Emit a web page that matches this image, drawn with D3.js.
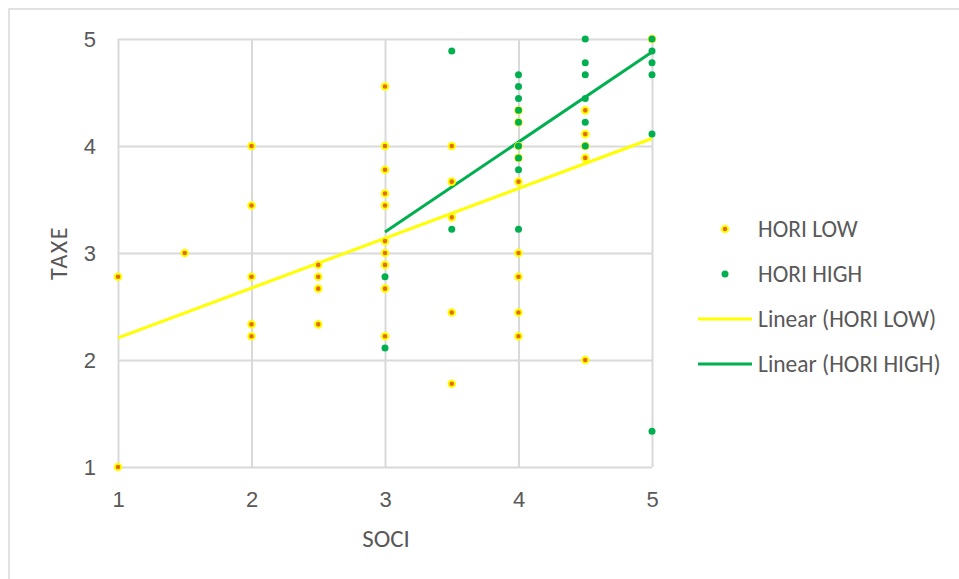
<!DOCTYPE html>
<html>
<head>
<meta charset="utf-8">
<script src="https://cdn.jsdelivr.net/npm/d3@7"></script>
<style>
  html, body { margin: 0; padding: 0; background: #fff; }
  svg { display: block; font-family: Carlito, "Open Sans", "Noto Sans", sans-serif; }
</style>
</head>
<body>
<svg id="chart" width="959" height="579"></svg>
<script>
// ---- data ----
const lowX  = [1, 1, 1.5, 2, 2, 2, 2, 2, 2.5, 2.5, 2.5, 2.5,
               3, 3, 3, 3, 3, 3, 3, 3, 3, 3,
               3.5, 3.5, 3.5, 3.5, 3.5,
               4, 4, 4, 4, 4, 4, 4, 4, 4,
               4.5, 4.5, 4.5, 4.5, 4.5, 5];
const lowY  = [2.778, 1, 3, 4, 3.444, 2.778, 2.333, 2.222, 2.889, 2.778, 2.667, 2.333,
               4.556, 4, 3.778, 3.556, 3.444, 3.111, 3, 2.889, 2.667, 2.222,
               4, 3.667, 3.333, 2.444, 1.778,
               4.333, 4.222, 4, 3.889, 3.667, 3, 2.778, 2.444, 2.222,
               4.333, 4.111, 4, 3.889, 2, 5];
const highX = [3, 3, 3.5, 3.5,
               4, 4, 4, 4, 4, 4, 4, 4, 4,
               4.5, 4.5, 4.5, 4.5, 4.5, 4.5,
               5, 5, 5, 5, 5, 5];
const highY = [2.778, 2.111, 4.889, 3.222,
               4.667, 4.556, 4.444, 4.333, 4.222, 4, 3.889, 3.778, 3.222,
               5, 4.778, 4.667, 4.444, 4.222, 4,
               5, 4.889, 4.778, 4.667, 4.111, 1.333];
// trendline end points
const trendLowX  = [1, 5];
const trendLowY  = [2.206, 4.07];
const trendHighX = [3, 5];
const trendHighY = [3.196, 4.879];
const xTicks = [1, 2, 3, 4, 5];
const yTicks = [1, 2, 3, 4, 5];
const legendLabels = ["HORI LOW", "HORI HIGH", "Linear (HORI LOW)", "Linear (HORI HIGH)"];

// ---- drawing ----
const svg = d3.select("#chart");
const C = { grid: "#d9d9d9", text: "#595959", lowFill: "#e46c0a", lowStroke: "#ffff00", high: "#00b050", lowLine: "#ffff00" };

// chart area border
svg.append("rect").attr("x", 9).attr("y", 9).attr("width", 1000).attr("height", 1000)
  .attr("fill", "#fff").attr("stroke", C.grid).attr("stroke-width", 1.5);

const x = d3.scaleLinear().domain([1, 5]).range([118, 652]);
const y = d3.scaleLinear().domain([1, 5]).range([467, 39]);

// gridlines + tick labels
const gx = svg.append("g").attr("transform", `translate(0,${y(1)})`)
  .call(d3.axisBottom(x).tickValues(xTicks).tickSize(-(y(1) - y(5))).tickFormat(d3.format("d")));
const gy = svg.append("g").attr("transform", `translate(${x(1)},0)`)
  .call(d3.axisLeft(y).tickValues(yTicks).tickSize(-(x(5) - x(1))).tickFormat(d3.format("d")).tickPadding(22));
[gx, gy].forEach(g => {
  g.select(".domain").remove();
  g.selectAll(".tick line").attr("stroke", C.grid).attr("stroke-width", 2);
  g.selectAll(".tick text").attr("fill", C.text).style("font-size", "22px");
});
gx.selectAll(".tick text").attr("y", 40).attr("dy", 0);
gy.selectAll(".tick text").attr("dy", "0.32em");

// trendlines
const line = d3.line().x(d => x(d[0])).y(d => y(d[1]));
svg.append("path").datum(d3.zip(trendLowX, trendLowY)).attr("d", line)
  .attr("fill", "none").attr("stroke", C.lowLine).attr("stroke-width", 3);
svg.append("path").datum(d3.zip(trendHighX, trendHighY)).attr("d", line)
  .attr("fill", "none").attr("stroke", C.high).attr("stroke-width", 3);

// points
svg.append("g").selectAll("circle").data(d3.zip(lowX, lowY)).join("circle")
  .attr("cx", d => x(d[0])).attr("cy", d => y(d[1])).attr("r", 3.3)
  .attr("fill", C.lowFill).attr("stroke", C.lowStroke).attr("stroke-width", 2);
svg.append("g").selectAll("circle").data(d3.zip(highX, highY)).join("circle")
  .attr("cx", d => x(d[0])).attr("cy", d => y(d[1])).attr("r", 3.5)
  .attr("fill", C.high);

// axis titles
svg.append("text").attr("x", 386).attr("y", 547).attr("text-anchor", "middle")
  .attr("fill", C.text).style("font-size", "25px").text("SOCI");
svg.append("text").attr("transform", `translate(59,${y(3)}) rotate(-90)`).attr("text-anchor", "middle")
  .attr("dy", "0.35em").attr("fill", C.text).style("font-size", "24px").style("letter-spacing", "1.5px").text("TAXE");

// legend
const legY = [229, 274, 319, 364];
const leg = svg.append("g");
leg.append("circle").attr("cx", 725).attr("cy", legY[0]).attr("r", 3.3)
  .attr("fill", C.lowFill).attr("stroke", C.lowStroke).attr("stroke-width", 2);
leg.append("circle").attr("cx", 725).attr("cy", legY[1]).attr("r", 3.5).attr("fill", C.high);
leg.append("line").attr("x1", 698).attr("x2", 752).attr("y1", legY[2]).attr("y2", legY[2])
  .attr("stroke", C.lowLine).attr("stroke-width", 3);
leg.append("line").attr("x1", 698).attr("x2", 752).attr("y1", legY[3]).attr("y2", legY[3])
  .attr("stroke", C.high).attr("stroke-width", 3);
leg.selectAll("text").data(legendLabels).join("text")
  .attr("x", 758).attr("y", (d, i) => legY[i]).attr("dy", "0.35em")
  .attr("fill", C.text).style("font-size", "23.5px").text(d => d);
</script>
</body>
</html>
